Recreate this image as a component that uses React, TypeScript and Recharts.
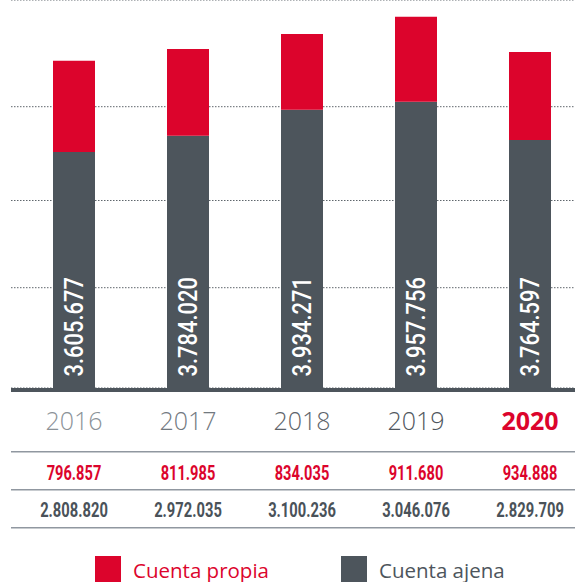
import React from 'react';
import { BarChart, Bar, XAxis, YAxis, CartesianGrid, ReferenceLine, LabelList } from 'recharts';

// ---- data ----
const years = ['2016', '2017', '2018', '2019', '2020'];
const cuentaPropia = [796857, 811985, 834035, 911680, 934888];
const cuentaAjena = [2808820, 2972035, 3100236, 3046076, 2829709];
// bar segment heights as drawn in the picture (thousands)
const ajenaBarHeights = [2360, 2523, 2783, 2863, 2480];
const propiaBarHeights = [913, 867, 757, 850, 880];
const gridTicks = [1003, 1875, 2813];
const yearColors = ['#8b9298', '#72797f', '#5d646a', '#4f565d', '#dc042c'];

const RED = '#dc042c';
const GRAY = '#4d555c';
const NUM_FONT = "Roboto, 'Noto Sans', sans-serif";

const fmt = (n: number) => String(n).replace(/\B(?=(\d{3})+(?!\d))/g, '.');
// condensed width of a formatted number (digits + dots)
const condensedWidth = (s: string, digitW: number, dotW: number) =>
  s.split('').reduce((acc, ch) => acc + (ch === '.' ? dotW : digitW), 0);

const data = years.map((y, i) => ({
  year: y,
  ajenaBar: ajenaBarHeights[i],
  propiaBar: propiaBarHeights[i],
  total: cuentaPropia[i] + cuentaAjena[i],
}));

const series = [
  { name: 'Cuenta propia', color: RED, lx: 95 },
  { name: 'Cuenta ajena', color: GRAY, lx: 341 },
];

const YearTick = (props: any) => {
  const { x, y, payload } = props;
  const i = payload.index;
  const last = i === years.length - 1;
  const p = fmt(cuentaPropia[i]);
  const a = fmt(cuentaAjena[i]);
  return (
    <g>
      <text x={x} y={y + 42} textAnchor="middle" fill={yearColors[i]}
        style={{ fontFamily: "'Open Sans', sans-serif", fontSize: 25, fontWeight: last ? 700 : 300 }}>
        {years[i]}
      </text>
      <text x={x} y={y + 92} textAnchor="middle" fill={RED}
        textLength={condensedWidth(p, 8.3, 4.8)} lengthAdjust="spacingAndGlyphs"
        style={{ fontFamily: NUM_FONT, fontSize: 19.5, fontWeight: 700 }}>
        {p}
      </text>
      <text x={x} y={y + 129} textAnchor="middle" fill="#4a5259"
        textLength={condensedWidth(a, 8.3, 4.8)} lengthAdjust="spacingAndGlyphs"
        style={{ fontFamily: NUM_FONT, fontSize: 19.5, fontWeight: 700 }}>
        {a}
      </text>
    </g>
  );
};

const TotalLabel = (props: any) => {
  const vb = props.viewBox && props.viewBox.width !== undefined ? props.viewBox : props;
  const cx = vb.x + vb.width / 2;
  const bottom = vb.y + vb.height;
  const px = cx + 9.3;
  const py = bottom - 11.5;
  const s = fmt(props.value);
  return (
    <text x={px} y={py} transform={`rotate(-90 ${px} ${py})`} fill="#ffffff" textAnchor="start"
      textLength={condensedWidth(s, 12.2, 7)} lengthAdjust="spacingAndGlyphs"
      style={{ fontFamily: NUM_FONT, fontSize: 26, fontWeight: 500 }}>
      {s}
    </text>
  );
};

const Baseline = (props: any) => (
  <rect x={props.x1} y={props.y1} width={props.x2 - props.x1} height={4} fill={GRAY} />
);

export default function App() {
  return (
    <div style={{ position: 'relative', width: 575, height: 582, overflow: 'hidden', background: '#fff' }}>
      <style>{`body{margin:0}`}</style>
      <BarChart width={600} height={582} data={data} margin={{ top: 0, right: 0, left: 11, bottom: 0 }} barSize={42}>
        <CartesianGrid vertical={false} stroke="#5f666c" strokeDasharray="1.5 1.5" />
        <YAxis hide type="number" domain={[0, 3880]} ticks={gridTicks} />
        <XAxis dataKey="year" height={194} axisLine={false} tickLine={false} tickSize={0} tickMargin={0}
          padding={{ left: 6, right: 13 }} interval={0} tick={<YearTick />} />
        <Bar dataKey="ajenaBar" stackId="a" fill={GRAY} isAnimationActive={false}>
          <LabelList dataKey="total" content={<TotalLabel />} />
        </Bar>
        <Bar dataKey="propiaBar" stackId="a" fill={RED} isAnimationActive={false} />
        <ReferenceLine y={0} shape={<Baseline />} />
      </BarChart>
      <svg width={575} height={582} style={{ position: 'absolute', left: 0, top: 0, pointerEvents: 'none' }}>
        {[452, 490, 528].map((ly) => (
          <rect key={ly} x={11} y={ly - 1} width={564} height={1.5} fill="#9097a0" />
        ))}
        {series.map((s) => (
          <g key={s.name}>
            <rect x={s.lx} y={556} width={26} height={26} fill={s.color} />
            <text x={s.lx + 38} y={578} fill={s.color}
              style={{ fontFamily: "'Open Sans', sans-serif", fontSize: 20.5 }}>
              {s.name}
            </text>
          </g>
        ))}
      </svg>
    </div>
  );
}
